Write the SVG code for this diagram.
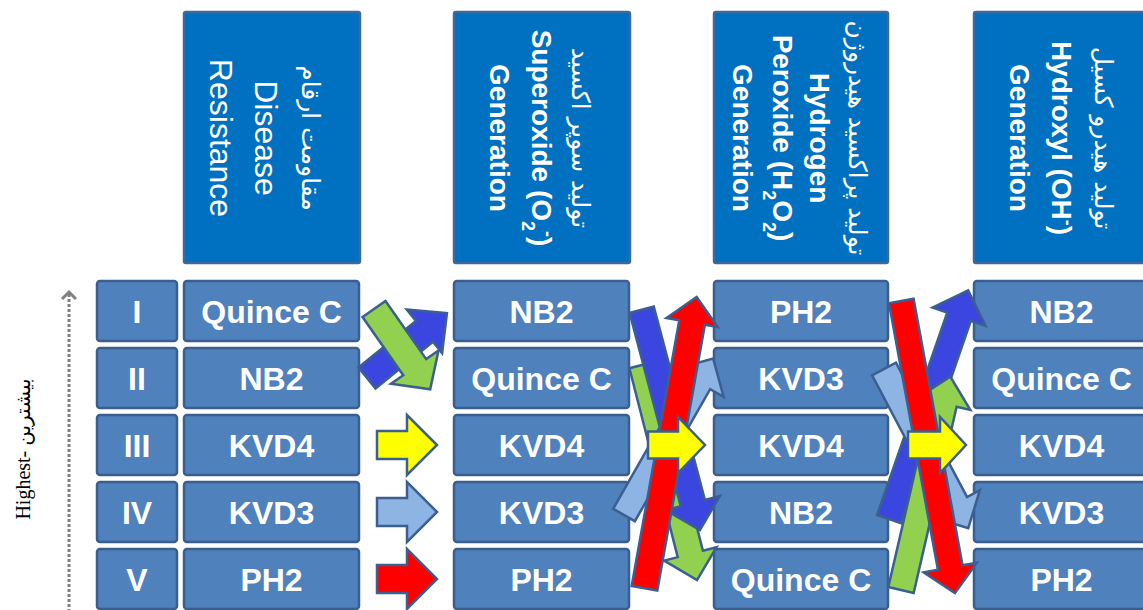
<svg xmlns="http://www.w3.org/2000/svg" width="1143" height="610" viewBox="0 0 1143 610">
  <style>
    .hdr { fill: #0070C0; stroke: #41689A; stroke-width: 2.5; }
    .cell { fill: #4F81BD; stroke: #3A5F8E; stroke-width: 2.5; }
    .lbl { font-family: "Liberation Sans", Arial, sans-serif; font-weight: bold; font-size: 32px; fill: #FFFFFF; text-anchor: middle; }
    .hreg { font-family: "Liberation Sans", Arial, sans-serif; font-size: 32px; fill: #FFFFFF; text-anchor: middle; }
    .hbold { font-family: "Liberation Sans", Arial, sans-serif; font-weight: bold; font-size: 28px; fill: #FFFFFF; text-anchor: middle; }
    .fa { font-family: "DejaVu Sans", sans-serif; font-size: 25px; fill: #FFFFFF; text-anchor: middle; }
    .axis { font-family: "Liberation Serif", "DejaVu Serif", "DejaVu Sans", serif; font-size: 20px; fill: #000000; text-anchor: middle; }
    .ar { stroke: #3B5F8F; stroke-width: 2.5; stroke-linejoin: miter; }
    .g { fill: #92D050; }
    .bl { fill: #3B46E0; }
    .y { fill: #FFFF00; }
    .lb { fill: #8DB4E2; }
    .r { fill: #FF0000; }
  </style>

  <!-- ranking axis -->
  <g id="axis">
    <line x1="69" y1="294" x2="69" y2="610" stroke="#808080" stroke-width="3" stroke-dasharray="3 2"/>
    <polyline points="62,299 69,292 76,299" fill="none" stroke="#808080" stroke-width="3"/>
    <text class="axis" transform="translate(30,449) rotate(-90)">Highest- بیشترین</text>
  </g>

  <!-- column headers -->
  <g id="header-resistance">
    <rect class="hdr" x="184" y="12" width="176" height="251" rx="2"/>
    <text class="fa" transform="translate(302,138) rotate(90)">مقاومت ارقام</text>
    <text class="hreg" transform="translate(255,138) rotate(90)">Disease</text>
    <text class="hreg" transform="translate(210,138) rotate(90)">Resistance</text>
  </g>
  <g id="header-superoxide">
    <rect class="hdr" x="454" y="12" width="176" height="251" rx="2"/>
    <text class="fa" transform="translate(572,138) rotate(90)">تولید سوپر اکسید</text>
    <text class="hbold" transform="translate(532,138) rotate(90)">Superoxide (O<tspan font-size="18px" baseline-shift="sub">2</tspan><tspan font-size="18px" baseline-shift="super">-</tspan>)</text>
    <text class="hbold" transform="translate(490,138) rotate(90)">Generation</text>
  </g>
  <g id="header-peroxide">
    <rect class="hdr" x="714" y="12" width="174" height="251" rx="2"/>
    <text class="fa" transform="translate(849,138) rotate(90)">تولید پراکسید هیدروژن</text>
    <text class="hbold" transform="translate(810,138) rotate(90)">Hydrogen</text>
    <text class="hbold" transform="translate(773,138) rotate(90)">Peroxide (H<tspan font-size="18px" baseline-shift="sub">2</tspan>O<tspan font-size="18px" baseline-shift="sub">2</tspan>)</text>
    <text class="hbold" transform="translate(733,138) rotate(90)">Generation</text>
  </g>
  <g id="header-hydroxyl">
    <rect class="hdr" x="974" y="12" width="176" height="251" rx="2"/>
    <text class="fa" transform="translate(1095,138) rotate(90)">تولید هیدرو کسیل</text>
    <text class="hbold" transform="translate(1052,138) rotate(90)">Hydroxyl (OH<tspan font-size="18px" baseline-shift="super">-</tspan>)</text>
    <text class="hbold" transform="translate(1010,138) rotate(90)">Generation</text>
  </g>

  <!-- rank column -->
  <g id="rank-I"><rect class="cell" x="97" y="281" width="80" height="60" rx="3"/><text class="lbl" x="137" y="323">I</text></g>
  <g id="rank-II"><rect class="cell" x="97" y="348" width="80" height="60" rx="3"/><text class="lbl" x="137" y="390">II</text></g>
  <g id="rank-III"><rect class="cell" x="97" y="415" width="80" height="60" rx="3"/><text class="lbl" x="137" y="457">III</text></g>
  <g id="rank-IV"><rect class="cell" x="97" y="482" width="80" height="60" rx="3"/><text class="lbl" x="137" y="524">IV</text></g>
  <g id="rank-V"><rect class="cell" x="97" y="549" width="80" height="60" rx="3"/><text class="lbl" x="137" y="591">V</text></g>

  <!-- disease resistance ranking -->
  <g id="res-1"><rect class="cell" x="184" y="281" width="175" height="60" rx="3"/><text class="lbl" x="271.5" y="323">Quince C</text></g>
  <g id="res-2"><rect class="cell" x="184" y="348" width="175" height="60" rx="3"/><text class="lbl" x="271.5" y="390">NB2</text></g>
  <g id="res-3"><rect class="cell" x="184" y="415" width="175" height="60" rx="3"/><text class="lbl" x="271.5" y="457">KVD4</text></g>
  <g id="res-4"><rect class="cell" x="184" y="482" width="175" height="60" rx="3"/><text class="lbl" x="271.5" y="524">KVD3</text></g>
  <g id="res-5"><rect class="cell" x="184" y="549" width="175" height="60" rx="3"/><text class="lbl" x="271.5" y="591">PH2</text></g>

  <!-- superoxide ranking -->
  <g id="sup-1"><rect class="cell" x="454" y="281" width="175" height="60" rx="3"/><text class="lbl" x="541.5" y="323">NB2</text></g>
  <g id="sup-2"><rect class="cell" x="454" y="348" width="175" height="60" rx="3"/><text class="lbl" x="541.5" y="390">Quince C</text></g>
  <g id="sup-3"><rect class="cell" x="454" y="415" width="175" height="60" rx="3"/><text class="lbl" x="541.5" y="457">KVD4</text></g>
  <g id="sup-4"><rect class="cell" x="454" y="482" width="175" height="60" rx="3"/><text class="lbl" x="541.5" y="524">KVD3</text></g>
  <g id="sup-5"><rect class="cell" x="454" y="549" width="175" height="60" rx="3"/><text class="lbl" x="541.5" y="591">PH2</text></g>

  <!-- hydrogen peroxide ranking -->
  <g id="per-1"><rect class="cell" x="714" y="281" width="174" height="60" rx="3"/><text class="lbl" x="801" y="323">PH2</text></g>
  <g id="per-2"><rect class="cell" x="714" y="348" width="174" height="60" rx="3"/><text class="lbl" x="801" y="390">KVD3</text></g>
  <g id="per-3"><rect class="cell" x="714" y="415" width="174" height="60" rx="3"/><text class="lbl" x="801" y="457">KVD4</text></g>
  <g id="per-4"><rect class="cell" x="714" y="482" width="174" height="60" rx="3"/><text class="lbl" x="801" y="524">NB2</text></g>
  <g id="per-5"><rect class="cell" x="714" y="549" width="174" height="60" rx="3"/><text class="lbl" x="801" y="591">Quince C</text></g>

  <!-- hydroxyl ranking -->
  <g id="hyd-1"><rect class="cell" x="974" y="281" width="175" height="60" rx="3"/><text class="lbl" x="1061.5" y="323">NB2</text></g>
  <g id="hyd-2"><rect class="cell" x="974" y="348" width="175" height="60" rx="3"/><text class="lbl" x="1061.5" y="390">Quince C</text></g>
  <g id="hyd-3"><rect class="cell" x="974" y="415" width="175" height="60" rx="3"/><text class="lbl" x="1061.5" y="457">KVD4</text></g>
  <g id="hyd-4"><rect class="cell" x="974" y="482" width="175" height="60" rx="3"/><text class="lbl" x="1061.5" y="524">KVD3</text></g>
  <g id="hyd-5"><rect class="cell" x="974" y="549" width="175" height="60" rx="3"/><text class="lbl" x="1061.5" y="591">PH2</text></g>

  <!-- block arrows: each drawn along +x from its tail, then placed -->
  <g id="connectors" class="ar">
    <!-- resistance -> superoxide -->
    <polygon class="bl" transform="translate(367,378) rotate(-39.1)" points="0,-13.5 74,-13.5 74,-28 103,0 74,28 74,13.5 0,13.5"/>
    <polygon class="g" transform="translate(374,309) rotate(55)" points="0,-14 71,-14 71,-29 98,0 71,29 71,14 0,14"/>
    <polygon class="y" transform="translate(377,445)" points="0,-14 30,-14 30,-30 60,0 30,30 30,14 0,14"/>
    <polygon class="lb" transform="translate(377,512)" points="0,-14 30,-14 30,-30 60,0 30,30 30,14 0,14"/>
    <polygon class="r" transform="translate(377,579)" points="0,-14 30,-14 30,-30 60,0 30,30 30,14 0,14"/>

    <!-- superoxide -> hydrogen peroxide -->
    <polygon class="g" transform="translate(642,365) rotate(75.65)" points="0,-13 195,-13 195,-27 222,0 195,27 195,13 0,13"/>
    <polygon class="lb" transform="translate(624,515) rotate(-60.3)" points="0,-12.5 152,-12.5 152,-28 180,0 152,28 152,12.5 0,12.5"/>
    <polygon class="bl" transform="translate(641.7,309.7) rotate(75.2)" points="0,-12.5 200,-12.5 200,-28 228,0 200,28 200,12.5 0,12.5"/>
    <polygon class="r" transform="translate(644.5,588.3) rotate(-79.85)" points="0,-13 270,-13 270,-26 296,0 270,26 270,13 0,13"/>
    <polygon class="y" transform="translate(648,445)" points="0,-13.5 30,-13.5 30,-28 57,0 30,28 30,13.5 0,13.5"/>

    <!-- hydrogen peroxide -> hydroxyl -->
    <polygon class="bl" transform="translate(889,519) rotate(-70.9)" points="0,-12.5 214,-12.5 214,-28 242,0 214,28 214,12.5 0,12.5"/>
    <polygon class="lb" transform="translate(884,369) rotate(62.1)" points="0,-13.5 152,-13.5 152,-28 180,0 152,28 152,13.5 0,13.5"/>
    <polygon class="g" transform="translate(901,590) rotate(-77)" points="0,-13 191,-13 191,-27 219,0 191,27 191,13 0,13"/>
    <polygon class="r" transform="translate(901.3,301) rotate(79.6)" points="0,-12.5 271,-12.5 271,-27 297,0 271,27 271,12.5 0,12.5"/>
    <polygon class="y" transform="translate(908,445)" points="0,-13.5 32,-13.5 32,-28 58,0 32,28 32,13.5 0,13.5"/>
  </g>
</svg>
